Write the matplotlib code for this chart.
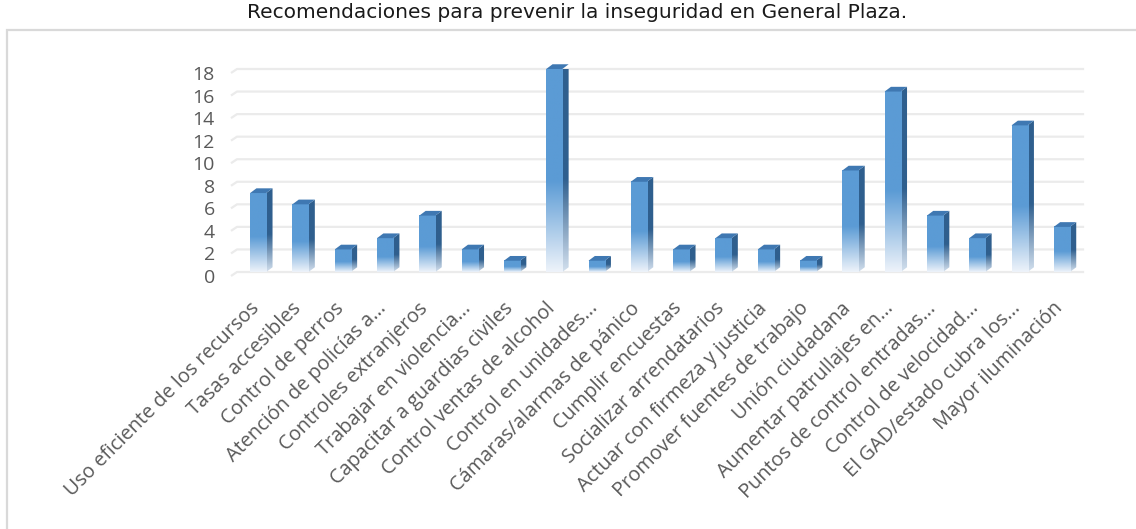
import numpy as np
import matplotlib
matplotlib.use("Agg")
import matplotlib.pyplot as plt
from matplotlib.patches import Polygon, Rectangle
from matplotlib.colors import LinearSegmentedColormap
from matplotlib.transforms import ScaledTranslation

categories = [
    "Uso eficiente de los recursos", "Tasas accesibles", "Control de perros",
    "Atención de policías a...", "Controles extranjeros", "Trabajar en violencia...",
    "Capacitar a guardias civiles", "Control ventas de alcohol", "Control en unidades...",
    "Cámaras/alarmas de pánico", "Cumplir encuestas", "Socializar arrendatarios",
    "Actuar con firmeza y justicia", "Promover fuentes de trabajo", "Unión ciudadana",
    "Aumentar patrullajes en...", "Puntos de control entradas...", "Control de velocidad...",
    "El GAD/estado cubra los...", "Mayor iluminación",
]
values = [7, 6, 2, 3, 5, 2, 1, 18, 1, 8, 2, 3, 2, 1, 9, 16, 5, 3, 13, 4]
yticks = [0, 2, 4, 6, 8, 10, 12, 14, 16, 18]
title = "Recomendaciones para prevenir la inseguridad en General Plaza."

W, H = 1136, 529
fig = plt.figure(figsize=(W / 100, H / 100), dpi=100)

# outer chart border
fig.patches.append(Rectangle((7 / W, -0.01), 1.02, (H - 30) / H + 0.01,
                             transform=fig.transFigure, fill=False,
                             edgecolor="#d9d9d9", lw=1.6))

fig.text(577 / W, 1 - 13 / H, title, ha="center", va="center",
         fontsize=14.5, family="DejaVu Sans", color="#1a1a1a")

ax = fig.add_axes([237 / W, (H - 272) / H, 846 / W, 203 / H])
ax.set_xlim(-0.5, len(values) - 0.5)
ax.set_ylim(0, 18)
for s in ax.spines.values():
    s.set_visible(False)

# back-wall gridlines with a short floor edge on the left
for t in yticks:
    ax.plot([-0.62, -0.5, len(values) - 0.5], [t - 0.3, t, t],
            color="#ebebeb", lw=1.6, zorder=0, clip_on=False)

front_cmap = LinearSegmentedColormap.from_list(
    "front", [(0, "#eef3fa"), (0.45, "#5b9bd5"), (1, "#5b9bd5")])
side_cmap = LinearSegmentedColormap.from_list(
    "side", [(0, "#d3e0ee"), (0.45, "#2f5f8e"), (1, "#2f5f8e")])

bw = 0.38   # front width (categories)
dx = 0.15   # depth offset in x
dy = 0.42   # depth offset in y
grad = np.linspace(0, 1, 256).reshape(-1, 1)

for i, v in enumerate(values):
    x0, x1 = i - bw / 2, i + bw / 2
    ax.imshow(grad, cmap=front_cmap, origin="lower", aspect="auto",
              extent=[x0, x1, 0, v], zorder=3, interpolation="bilinear")
    side = Polygon([(x1, 0), (x1 + dx, dy), (x1 + dx, v + dy), (x1, v)],
                   closed=True, facecolor="none", edgecolor="none")
    ax.add_patch(side)
    im = ax.imshow(grad, cmap=side_cmap, origin="lower", aspect="auto",
                   extent=[x1, x1 + dx, 0, v + dy], zorder=2,
                   interpolation="bilinear")
    im.set_clip_path(side)
    top = Polygon([(x0, v), (x0 + dx, v + dy), (x1 + dx, v + dy), (x1, v)],
                  closed=True, facecolor="#3f78b2", edgecolor="none", zorder=4,
                  clip_on=False)
    ax.add_patch(top)

ax.set_xlim(-0.5, len(values) - 0.5)
ax.set_ylim(0, 18)

ax.set_yticks(yticks)
ax.set_yticklabels([str(t) for t in yticks], family="Open Sans", fontsize=14,
                   color="#595959")
ax.set_xticks(range(len(categories)))
ax.set_xticklabels(categories, rotation=45, ha="right", rotation_mode="anchor",
                   family="Open Sans", fontsize=14.3, color="#595959")
ax.tick_params(axis="y", length=0, pad=16)
ax.tick_params(axis="x", length=0, pad=19)

shift_y = ScaledTranslation(0, -4 / 100, fig.dpi_scale_trans)
for lab in ax.get_yticklabels():
    lab.set_transform(lab.get_transform() + shift_y)
shift_x = ScaledTranslation(-9 / 100, 0, fig.dpi_scale_trans)
for lab in ax.get_xticklabels():
    lab.set_transform(lab.get_transform() + shift_x)

fig.savefig("out.png", dpi=100)
